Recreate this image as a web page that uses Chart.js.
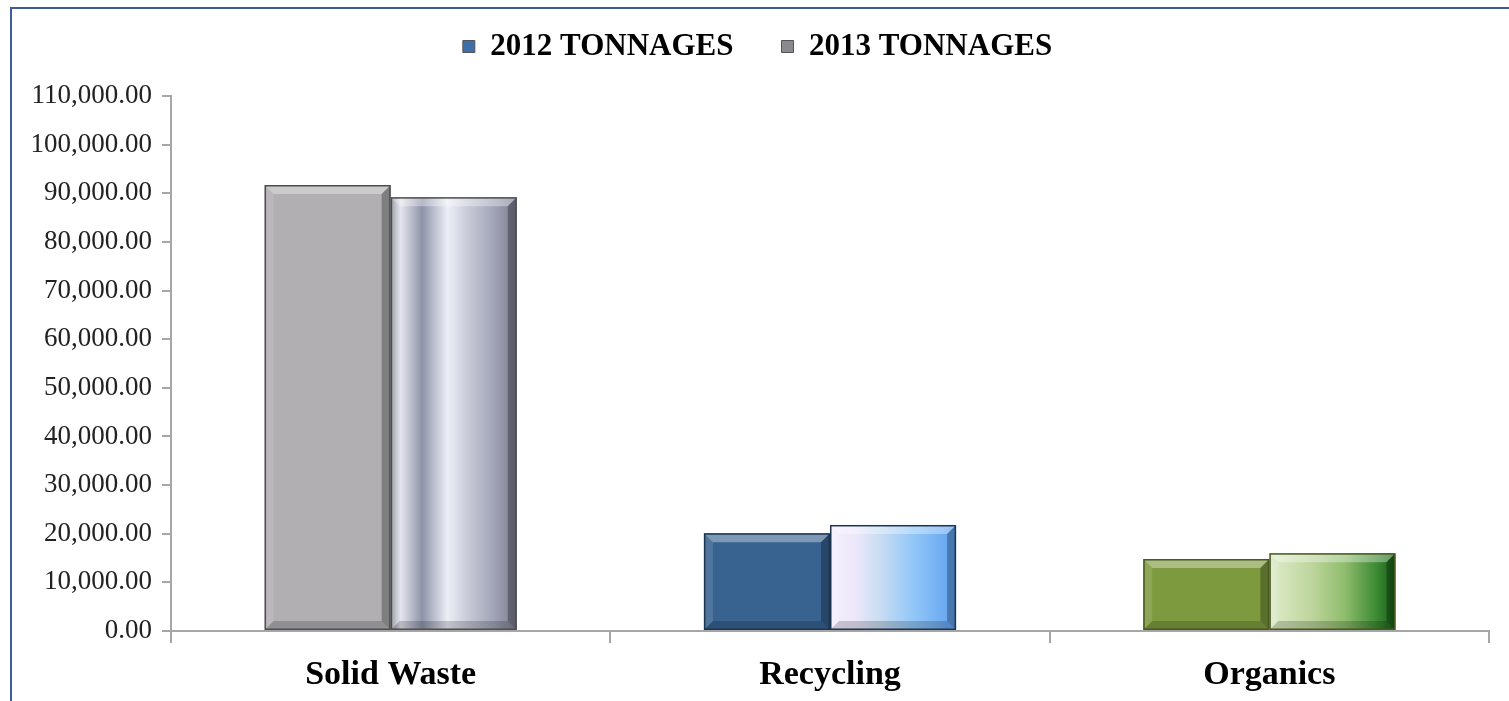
<!DOCTYPE html>
<html>
<head>
<meta charset="utf-8">
<script src="https://cdn.jsdelivr.net/npm/chart.js@4"></script>
<style>
  html, body { margin: 0; padding: 0; background: #fff; }
  #wrap { position: relative; width: 1509px; height: 701px; overflow: hidden; }
  #frame { position: absolute; left: 10px; top: 7px; width: 1520px; height: 720px;
           border-top: 2px solid #3e5c95; border-left: 2px solid #3e5c95; box-sizing: border-box; }
  canvas { position: absolute; left: 0; top: 0; }
</style>
</head>
<body>
<div id="wrap">
  <div id="frame"></div>
  <canvas id="c" width="1509" height="701"></canvas>
</div>
<script>
// Waste tonnages by stream, two years side by side
const categories = ['Solid Waste', 'Recycling', 'Organics'];
const seriesNames = ['2012 TONNAGES', '2013 TONNAGES'];
const tonnages2012 = [91700, 20100, 14800];
const tonnages2013 = [89200, 21800, 16000];
const yTicks = { min: 0, max: 110000, step: 10000 };

const CAT_PCT = 0.574;

// Per-category fills: flat for the first year, shaded bands for the second
const flatFills = ['#b1afb1', '#386391', '#7e9a3f'];
const edgeShades = ['#4e4e52', '#1e3550', '#46581f'];
const bandStops = [
  [[0, '#8e909a'], [0.08, '#e4e5ee'], [0.25, '#8e93a8'], [0.45, '#eceef6'], [0.62, '#c6c9d6'], [0.82, '#a0a4b6'], [1, '#7a7e8e']],
  [[0, '#f6f0fe'], [0.2, '#ece8fa'], [0.4, '#c8dcf2'], [0.65, '#94c8f8'], [1, '#5ea0f0']],
  [[0, '#dfeccb'], [0.35, '#bcd49a'], [0.6, '#8ebc6c'], [0.85, '#3d8a34'], [1, '#155f15']]
];
const legendFills = ['#3f6fa8', '#8a8a8e'];

function barFill(ctx, seriesIdx) {
  const chart = ctx.chart;
  const i = ctx.dataIndex;
  if (seriesIdx === 0) return flatFills[i];
  const xs = chart.scales && chart.scales.x;
  if (!chart.chartArea || !xs || !xs.width) return bandStops[i][2][1];
  const w = xs.width / categories.length * CAT_PCT / 2;
  const x0 = xs.getPixelForValue(i), x1 = x0 + w;
  const g = chart.ctx.createLinearGradient(x0, 0, x1, 0);
  bandStops[i].forEach(s => g.addColorStop(s[0], s[1]));
  return g;
}

// Empty layout box that leaves a gap between the legend and the plot
const legendGap = {
  id: 'legendGap',
  beforeInit(chart) {
    Chart.layouts.addBox(chart, {
      position: 'top', weight: 500, fullSize: true, options: {},
      top: 0, left: 0, right: 0, bottom: 0, width: 0, height: 0,
      isHorizontal() { return true; },
      update(maxWidth) { this.width = maxWidth; this.height = 24; },
      draw() {}
    });
  }
};

// Bevelled edges on each bar, using the bar element geometry
const bevel = {
  id: 'bevel',
  afterDatasetsDraw(chart) {
    const c = chart.ctx;
    chart.data.datasets.forEach((ds, di) => {
      const meta = chart.getDatasetMeta(di);
      meta.data.forEach((bar, i) => {
        const { x, y, base, width } = bar.getProps(['x', 'y', 'base', 'width'], true);
        const l = x - width / 2, r = x + width / 2, t = y, b = base;
        const d = 9;
        c.save();
        c.beginPath();
        c.moveTo(l, t); c.lineTo(r, t); c.lineTo(r - d, t + d); c.lineTo(l + d, t + d); c.closePath();
        c.fillStyle = 'rgba(255,255,255,0.35)'; c.fill();
        c.beginPath();
        c.moveTo(l, t); c.lineTo(l + d, t + d); c.lineTo(l + d, b - d); c.lineTo(l, b); c.closePath();
        c.fillStyle = 'rgba(255,255,255,0.12)'; c.fill();
        c.beginPath();
        c.moveTo(r, t); c.lineTo(r - d, t + d); c.lineTo(r - d, b - d); c.lineTo(r, b); c.closePath();
        c.fillStyle = 'rgba(0,0,0,0.28)'; c.fill();
        c.beginPath();
        c.moveTo(l, b); c.lineTo(l + d, b - d); c.lineTo(r - d, b - d); c.lineTo(r, b); c.closePath();
        c.fillStyle = 'rgba(0,0,0,0.18)'; c.fill();
        c.strokeStyle = edgeShades[i];
        c.lineWidth = 1.5;
        c.strokeRect(l + 0.75, t + 0.75, width - 1.5, b - t - 1.5);
        c.restore();
      });
    });
  }
};

const fmt = v => Number(v).toLocaleString('en-US', { minimumFractionDigits: 2, maximumFractionDigits: 2 });

new Chart(document.getElementById('c'), {
  type: 'bar',
  data: {
    labels: categories,
    datasets: [
      { label: seriesNames[0], data: tonnages2012, backgroundColor: ctx => barFill(ctx, 0) },
      { label: seriesNames[1], data: tonnages2013, backgroundColor: ctx => barFill(ctx, 1) }
    ]
  },
  options: {
    responsive: false,
    animation: false,
    layout: { padding: { left: 26, right: 20, top: -17, bottom: 0 } },
    datasets: { bar: { categoryPercentage: CAT_PCT, barPercentage: 1.0 } },
    plugins: {
      tooltip: { enabled: false },
      legend: {
        position: 'top',
        labels: {
          font: { family: 'Liberation Serif', size: 31, weight: 'bold' },
          color: '#000',
          boxWidth: 12,
          boxHeight: 12,
          padding: 48,
          generateLabels: chart => chart.data.datasets.map((ds, i) => ({
            text: ds.label,
            fillStyle: legendFills[i],
            strokeStyle: '#555',
            lineWidth: 1,
            datasetIndex: i,
            hidden: false
          }))
        }
      }
    },
    scales: {
      x: {
        grid: { display: true, drawOnChartArea: false, offset: true, color: '#a6a6a6', lineWidth: 2, tickLength: 12 },
        border: { display: true, color: '#a6a6a6', width: 2 },
        ticks: { font: { family: 'Liberation Serif', size: 34, weight: 'bold' }, color: '#000', padding: 12 },
        afterFit: s => { s.height = 70; }
      },
      y: {
        min: yTicks.min,
        max: yTicks.max,
        ticks: {
          stepSize: yTicks.step,
          font: { family: 'Liberation Serif', size: 27 },
          color: '#222',
          padding: 10,
          callback: v => fmt(v)
        },
        grid: { display: true, drawOnChartArea: false, color: '#a6a6a6', lineWidth: 2, tickLength: 9 },
        border: { display: true, color: '#a6a6a6', width: 2 },
        afterFit: s => { s.width = 145; }
      }
    }
  },
  plugins: [legendGap, bevel]
});
</script>
</body>
</html>
